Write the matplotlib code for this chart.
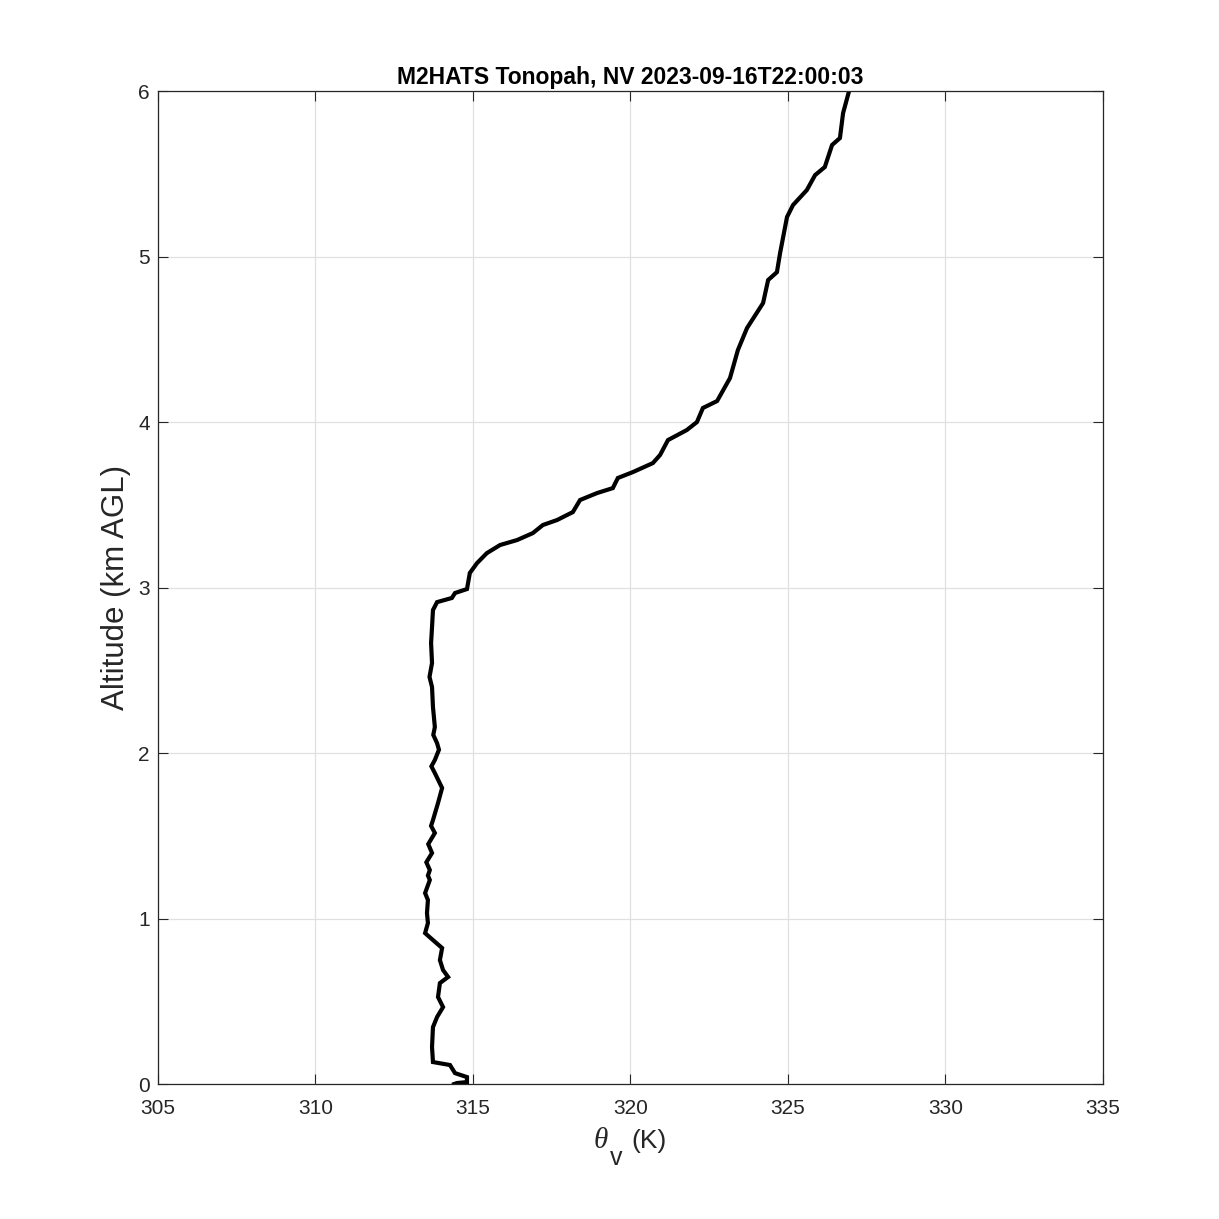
import matplotlib
matplotlib.use("Agg")
import matplotlib.pyplot as plt

# virtual potential temperature profile (K, km AGL)
theta_v = [314.40, 314.49, 314.81, 314.81, 314.43, 314.27, 313.73, 313.70, 313.73,
           313.86, 314.05, 313.89, 313.95, 314.21, 314.05, 313.95, 314.02, 313.73,
           313.48, 313.57, 313.54, 313.57, 313.48, 313.63, 313.57, 313.63, 313.52,
           313.70, 313.58, 313.79, 313.67, 313.73, 313.89, 314.02, 313.79, 313.68,
           313.79, 313.92, 313.86, 313.74, 313.79, 313.73, 313.70, 313.62, 313.70,
           313.67, 313.70, 313.73, 313.86, 314.33, 314.43, 314.81, 314.90, 315.13,
           315.44, 315.86, 316.40, 316.90, 317.22, 317.67, 318.17, 318.40, 318.94,
           319.44, 319.60, 320.08, 320.71, 320.94, 321.19, 321.79, 322.11, 322.30,
           322.75, 323.16, 323.41, 323.70, 324.21, 324.37, 324.65, 324.75, 324.97,
           325.16, 325.60, 325.86, 326.17, 326.40, 326.65, 326.75, 326.94]
alt_km = [0.000, 0.006, 0.012, 0.042, 0.066, 0.115, 0.133, 0.224, 0.344,
          0.405, 0.465, 0.526, 0.610, 0.647, 0.689, 0.749, 0.822, 0.870,
          0.912, 0.973, 1.033, 1.112, 1.154, 1.233, 1.260, 1.293, 1.340,
          1.396, 1.450, 1.517, 1.560, 1.595, 1.698, 1.789, 1.879, 1.920,
          1.958, 2.020, 2.060, 2.110, 2.157, 2.278, 2.399, 2.460, 2.544,
          2.665, 2.761, 2.864, 2.912, 2.937, 2.967, 2.991, 3.088, 3.148,
          3.208, 3.257, 3.287, 3.329, 3.378, 3.408, 3.456, 3.529, 3.571,
          3.601, 3.662, 3.698, 3.752, 3.801, 3.891, 3.952, 4.000, 4.085,
          4.127, 4.266, 4.435, 4.568, 4.719, 4.858, 4.906, 5.021, 5.239,
          5.311, 5.402, 5.492, 5.541, 5.674, 5.716, 5.867, 6.000]

xticks = [305, 310, 315, 320, 325, 330, 335]
yticks = [0, 1, 2, 3, 4, 5, 6]

plt.rcParams['font.family'] = ['Liberation Sans', 'DejaVu Sans']

fig = plt.figure(figsize=(12.19, 12.19), dpi=100)
ax = fig.add_axes([0.1296, 0.1107, 0.7752, 0.8146])

ax.plot(theta_v, alt_km, color="black", linewidth=3.0, solid_joinstyle="miter")

ax.set_xlim(305, 335)
ax.set_ylim(0, 6)
ax.set_xticks(xticks)
ax.set_yticks(yticks)
ax.grid(True, color="#e0e0e0", linewidth=0.9)
ax.set_axisbelow(True)

ax.tick_params(direction="in", length=7, width=0.8, top=True, right=True,
               labelsize=15, colors="#262626")
ax.tick_params(axis="x", pad=11)
ax.tick_params(axis="y", pad=6)
for s in ax.spines.values():
    s.set_color("#262626")
    s.set_linewidth(0.9)

ax.set_title("M2HATS Tonopah, NV 2023-09-16T22:00:03", fontsize=16.5,
             fontweight="bold", pad=5)
ax.set_ylabel("Altitude (km AGL)", fontsize=22.5, color="#262626", labelpad=5)

# x label: theta (italic serif) with a lowered upright "v" subscript, then "(K)"
fig.text(594 / 1219, 1 - 1148 / 1219, "\u03b8", fontsize=21, family="Liberation Serif",
         style="italic", color="#262626", ha="left", va="baseline")
fig.text(610 / 1219, 1 - 1165 / 1219, "v", fontsize=18, color="#262626",
         ha="left", va="baseline")
fig.text(631 / 1219, 1 - 1148 / 1219, "(K)", fontsize=19, color="#262626",
         ha="left", va="baseline")

fig.savefig("out.png", dpi=100, facecolor="white")
